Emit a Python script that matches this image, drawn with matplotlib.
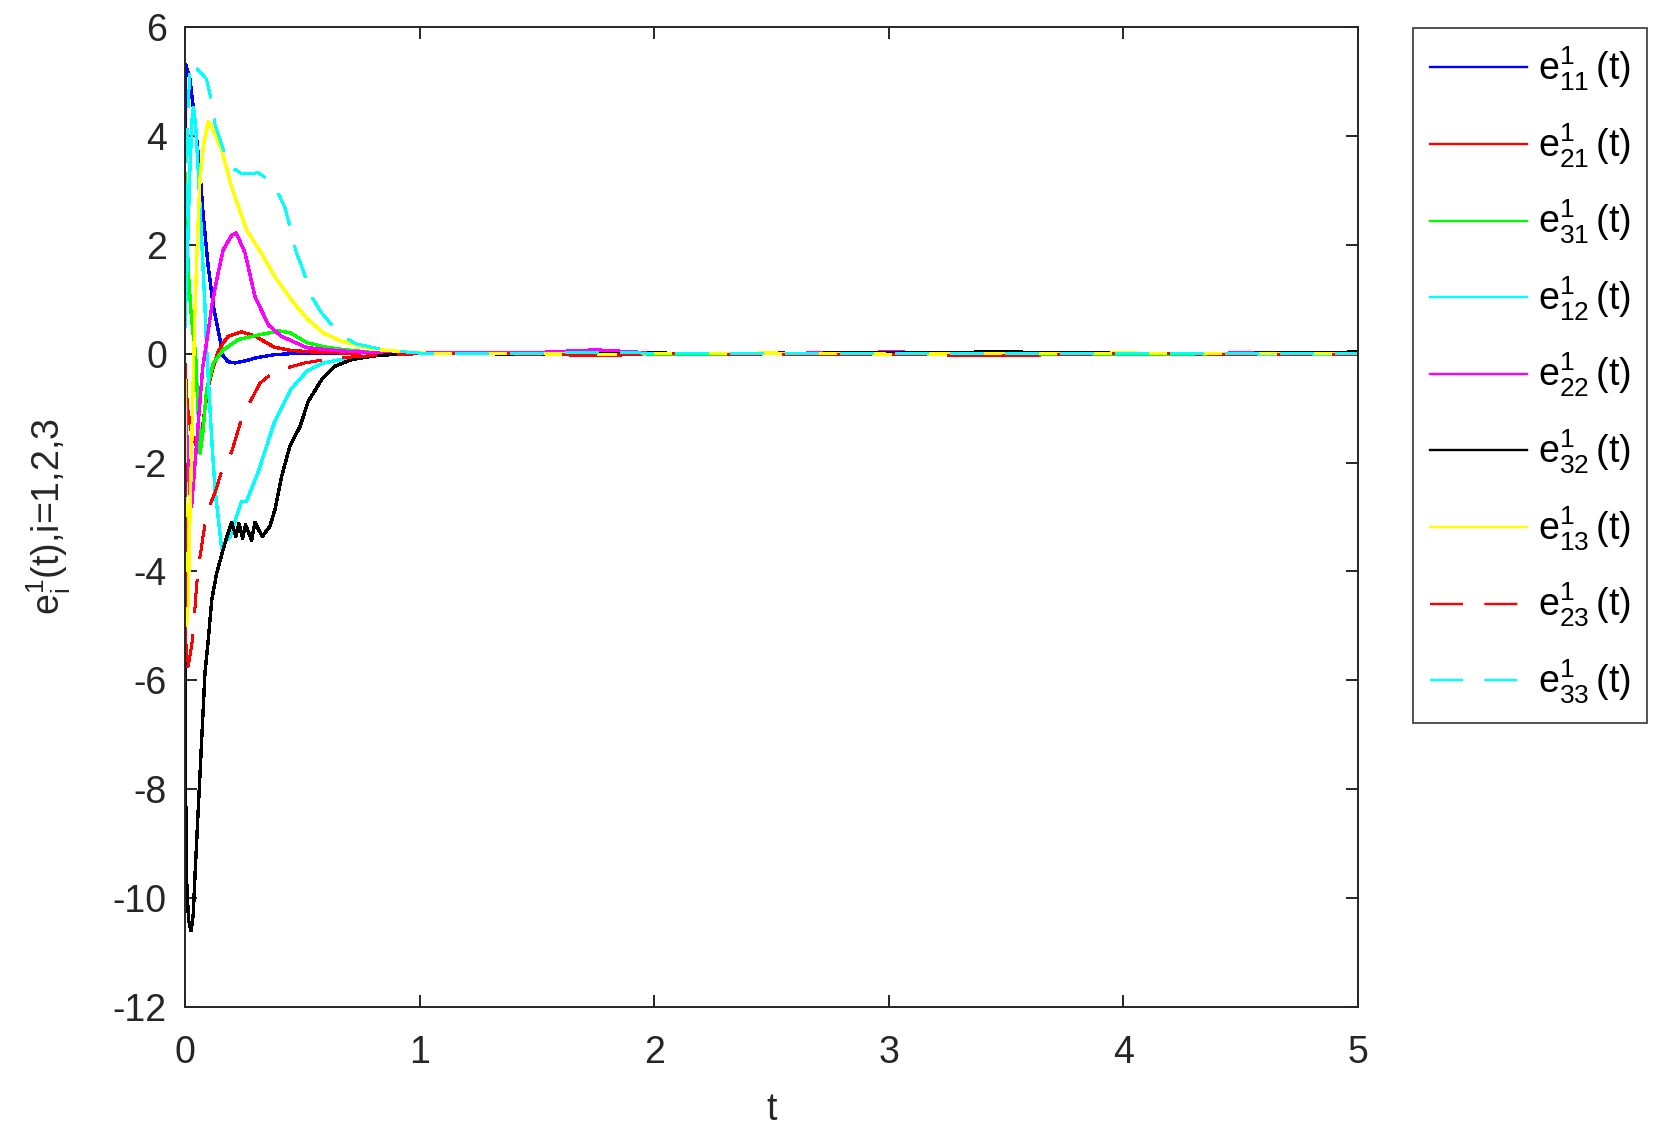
import numpy as np
import matplotlib
matplotlib.use("Agg")
import matplotlib.pyplot as plt

plt.rcParams["font.family"] = ["Liberation Sans", "DejaVu Sans"]
plt.rcParams["mathtext.default"] = "regular"
plt.rcParams["axes.unicode_minus"] = False

# tail of every series, t >= 1
t_tail = [1.25, 1.5, 1.75, 2.0, 2.5, 3.0, 3.5, 4.0, 4.5, 5.0]

t11 = [0, 0.004, 0.021, 0.043, 0.064, 0.078, 0.099, 0.121, 0.145, 0.163, 0.185, 0.213, 0.25, 0.31, 0.38, 0.45, 0.52, 0.7, 1.0]
e11 = [4.0, 5.3, 5.04, 4.24, 3.32, 2.52, 1.6, 0.87, 0.35, -0.05, -0.15, -0.17, -0.14, -0.07, -0.02, 0.0, 0.0, 0.0, 0.01]
e11_tail = [0.01, 0.0, 0.01, 0.0, 0.01, 0.0, 0.01, 0.0, 0.01, 0.02]

t21 = [0, 0.01, 0.03, 0.05, 0.064, 0.085, 0.099, 0.12, 0.14, 0.163, 0.184, 0.241, 0.3, 0.38, 0.45, 0.55, 0.7, 1.0]
e21 = [-0.2, -1.0, -1.5, -1.7, -1.76, -1.0, -0.6, -0.25, 0.02, 0.2, 0.32, 0.40, 0.32, 0.12, 0.06, 0.03, 0.01, 0.0]
e21_tail = [0.0, -0.01, -0.03, -0.01, 0.0, -0.01, -0.03, 0.0, -0.01, 0.0]

t31 = [0, 0.007, 0.014, 0.025, 0.036, 0.045, 0.055, 0.064, 0.075, 0.092, 0.121, 0.163, 0.227, 0.3, 0.4, 0.45, 0.52, 0.6, 0.665, 0.8, 1.0]
e31 = [3.3, 2.4, 1.5, 0.8, 0.3, 0.0, -1.0, -1.83, -1.5, -0.66, -0.17, 0.07, 0.26, 0.33, 0.42, 0.38, 0.2, 0.12, 0.08, 0.02, 0.0]
e31_tail = [0.0, 0.01, 0.0, -0.01, 0.0, 0.01, 0.0, -0.01, 0.0, 0.0]

t12 = [0, 0.01, 0.02, 0.03, 0.036, 0.045, 0.057, 0.071, 0.085, 0.092, 0.114, 0.128, 0.156, 0.178, 0.192, 0.241, 0.262, 0.31, 0.38, 0.45, 0.52, 0.59, 0.735, 0.9, 1.0]
e12 = [0.5, 1.8, 3.3, 4.3, 4.52, 4.2, 3.32, 2.1, 0.87, 0.1, -1.58, -2.5, -3.57, -3.42, -3.36, -2.71, -2.71, -2.2, -1.27, -0.66, -0.32, -0.17, -0.05, -0.01, 0.0]
e12_tail = [0.01, 0.0, 0.02, 0.01, 0.0, 0.01, 0.0, 0.01, 0.0, -0.02]

t22 = [0, 0.01, 0.02, 0.028, 0.04, 0.06, 0.075, 0.09, 0.114, 0.135, 0.163, 0.2, 0.218, 0.256, 0.298, 0.355, 0.41, 0.52, 0.665, 0.8, 1.0]
e22 = [-0.5, -1.8, -2.5, -2.8, -2.16, -1.08, -0.27, 0.15, 0.87, 1.36, 1.91, 2.18, 2.22, 1.85, 1.05, 0.53, 0.32, 0.11, 0.05, 0.02, 0.01]
e22_tail = [0.01, 0.02, 0.07, 0.01, 0.0, 0.03, 0.01, 0.0, 0.01, 0.0]

t32 = [0, 0.005, 0.015, 0.026, 0.035, 0.043, 0.057, 0.071, 0.085, 0.099, 0.114, 0.135, 0.170, 0.199, 0.217, 0.230, 0.246, 0.258, 0.284, 0.298, 0.329, 0.362, 0.383, 0.412, 0.447, 0.490, 0.525, 0.582, 0.639, 0.710, 0.809, 0.9, 1.0]
e32 = [-5.5, -9.5, -10.4, -10.6, -10.3, -9.55, -8.32, -7.1, -5.87, -5.26, -4.52, -4.03, -3.48, -3.10, -3.36, -3.12, -3.39, -3.14, -3.43, -3.10, -3.36, -3.17, -2.87, -2.25, -1.70, -1.34, -0.88, -0.48, -0.23, -0.11, -0.04, -0.01, 0.0]
e32_tail = [0.0, -0.01, 0.0, 0.01, 0.0, 0.02, 0.03, 0.01, 0.0, 0.03]

t13 = [0, 0.007, 0.014, 0.021, 0.028, 0.036, 0.043, 0.053, 0.064, 0.078, 0.099, 0.12, 0.156, 0.198, 0.234, 0.262, 0.325, 0.382, 0.453, 0.523, 0.59, 0.665, 0.806, 1.0]
e13 = [-0.5, -5.0, -4.5, -3.0, -1.8, -0.3, 0.87, 2.1, 3.2, 3.81, 4.27, 4.1, 3.75, 3.07, 2.62, 2.28, 1.85, 1.42, 0.99, 0.63, 0.38, 0.23, 0.08, 0.01]
e13_tail = [0.0, 0.0, -0.02, 0.0, 0.01, -0.01, 0.0, 0.01, 0.0, 0.0]

t23 = [0, 0.005, 0.015, 0.028, 0.036, 0.05, 0.064, 0.092, 0.128, 0.163, 0.199, 0.234, 0.263, 0.32, 0.383, 0.511, 0.596, 0.735, 0.9, 1.0]
e23 = [-2.0, -5.9, -5.7, -5.37, -5.07, -4.22, -3.73, -2.93, -2.55, -2.07, -1.8, -1.3, -1.0, -0.54, -0.32, -0.17, -0.11, -0.05, -0.02, 0.0]
e23_tail = [0.0, -0.01, -0.03, 0.0, -0.01, -0.01, -0.04, 0.0, -0.01, -0.01]

t33 = [0, 0.01, 0.02, 0.028, 0.047, 0.07, 0.092, 0.116, 0.128, 0.163, 0.192, 0.24, 0.312, 0.376, 0.426, 0.447, 0.475, 0.503, 0.539, 0.582, 0.66, 0.73, 0.86, 1.0]
e33 = [1.5, 4.0, 5.2, 5.37, 5.25, 5.15, 5.04, 4.58, 4.21, 3.75, 3.44, 3.31, 3.32, 3.14, 2.68, 2.34, 1.85, 1.54, 1.05, 0.75, 0.35, 0.18, 0.06, 0.01]
e33_tail = [0.01, 0.01, 0.02, 0.01, 0.01, 0.01, 0.0, 0.01, 0.01, 0.01]

series = [
    (t11, e11, e11_tail, "#0000ff", "-", "11"),
    (t21, e21, e21_tail, "#ff0000", "-", "21"),
    (t31, e31, e31_tail, "#00ff00", "-", "31"),
    (t12, e12, e12_tail, "#00ffff", "-", "12"),
    (t22, e22, e22_tail, "#ff00ff", "-", "22"),
    (t32, e32, e32_tail, "#000000", "-", "32"),
    (t13, e13, e13_tail, "#ffff00", "-", "13"),
    (t23, e23, e23_tail, "#ff0000", "--", "23"),
    (t33, e33, e33_tail, "#00ffff", "--", "33"),
]

dark = (0.15, 0.15, 0.15)
fs = 27

fig = plt.figure(figsize=(16.69, 11.41), dpi=100)
ax = fig.add_axes([185 / 1669, 1 - 1007 / 1141, (1358 - 185) / 1669, (1007 - 27) / 1141])

for t, v, tail, c, ls, idx in series:
    tt = np.concatenate([t, t_tail])
    vv = np.concatenate([v, tail])
    style = (0, (14, 9)) if ls == "--" else "-"
    ax.plot(tt, vv, color=c, linestyle=style, linewidth=1.7, antialiased=False,
            label="$e_{%s}^{1}\\,$(t)" % idx)

ax.set_xlim(0, 5)
ax.set_ylim(-12, 6)
ax.set_xticks(range(0, 6))
ax.set_yticks(range(-12, 7, 2))
ax.tick_params(direction="in", top=True, right=True, length=8.5, width=1.4,
               labelsize=fs, colors=dark)
ax.tick_params(axis="x", pad=20)
ax.tick_params(axis="y", pad=13)
for s in ax.spines.values():
    s.set_linewidth(1.4)
    s.set_color(dark)

ax.set_xlabel("t", fontsize=fs, color=dark, labelpad=15)
ax.set_ylabel("$e_i^1$(t),i=1,2,3", fontsize=fs, color=dark, labelpad=29)

leg = ax.legend(loc="upper left", bbox_to_anchor=(1413 / 1669, 1 - 28 / 1141),
                bbox_transform=fig.transFigure, borderaxespad=0, fontsize=fs,
                frameon=True, fancybox=False, handlelength=2.6, handletextpad=0.28,
                labelspacing=0.76, borderpad=0.45)
leg.get_frame().set_edgecolor(dark)
leg.get_frame().set_linewidth(1.4)
for txt in leg.get_texts():
    txt.set_color("black")

fig.savefig("out.png", dpi=100)
